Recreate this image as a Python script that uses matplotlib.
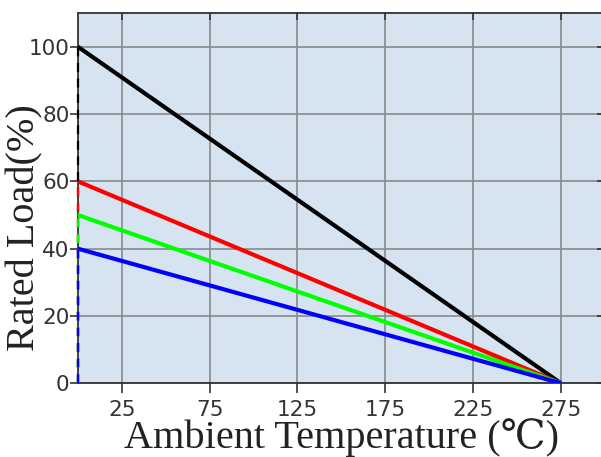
import matplotlib.pyplot as plt

# derating curves: full rated load at 0 C falling to zero at 275 C
temp_start = 0
temp_end = 275
loads = [100, 60, 50, 40]
colors = ['black', 'red', '#00ff00', 'blue']

x_ticks = [25, 75, 125, 175, 225, 275]
y_ticks = [0, 20, 40, 60, 80, 100]

fig = plt.figure(figsize=(6.01, 4.57), dpi=100)
ax = fig.add_axes([0.1293, 0.1613, 1.0066 - 0.1293, 0.9716 - 0.1613])
ax.set_facecolor('#d6e4f1')

for load, c in zip(loads, colors):
    ax.plot([temp_start, temp_end], [load, 0], color=c, lw=3, solid_capstyle='butt', zorder=3)

# dashed verticals at the left edge, tallest first so the short ones stay on top
for load, c in zip(loads, colors):
    ax.plot([temp_start, temp_start], [0, load], color=c, lw=1.6, ls=(0, (4, 3)),
            clip_on=False, zorder=4)

ax.set_xlim(0, 300)
ax.set_ylim(0, 110)
ax.set_xticks(x_ticks)
ax.set_yticks(y_ticks)
ax.grid(True, color='#8a8a8a', lw=1.2)
ax.set_axisbelow(True)

ax.tick_params(axis='both', labelsize=15.5, labelcolor='#333333', color='#333333', width=1.2)
ax.tick_params(axis='x', direction='out', length=7, pad=5)
ax.tick_params(axis='y', direction='out', length=6, pad=0)
ax.tick_params(right=True, top=True, which='both')
for t in ax.yaxis.get_major_ticks():
    t.tick2line.set_marker(0)
    t.tick2line.set_markersize(6)
for t in ax.xaxis.get_major_ticks():
    t.tick2line.set_marker(3)
    t.tick2line.set_markersize(5)

for s in ax.spines.values():
    s.set_color('#333333')
    s.set_linewidth(1.3)

label_font = ['Liberation Serif', 'DejaVu Serif', 'Noto Sans CJK SC']
fig.text(341 / 601, 1 - 448 / 457, 'Ambient Temperature (℃)', fontsize=29, family=label_font,
         color='#222222', ha='center', va='baseline')
fig.text(25 / 601, 1 - 228 / 457, 'Rated Load(%)', fontsize=29, family=label_font,
         color='#222222', ha='center', va='center', rotation=90)

fig.savefig('out.png', dpi=100)
